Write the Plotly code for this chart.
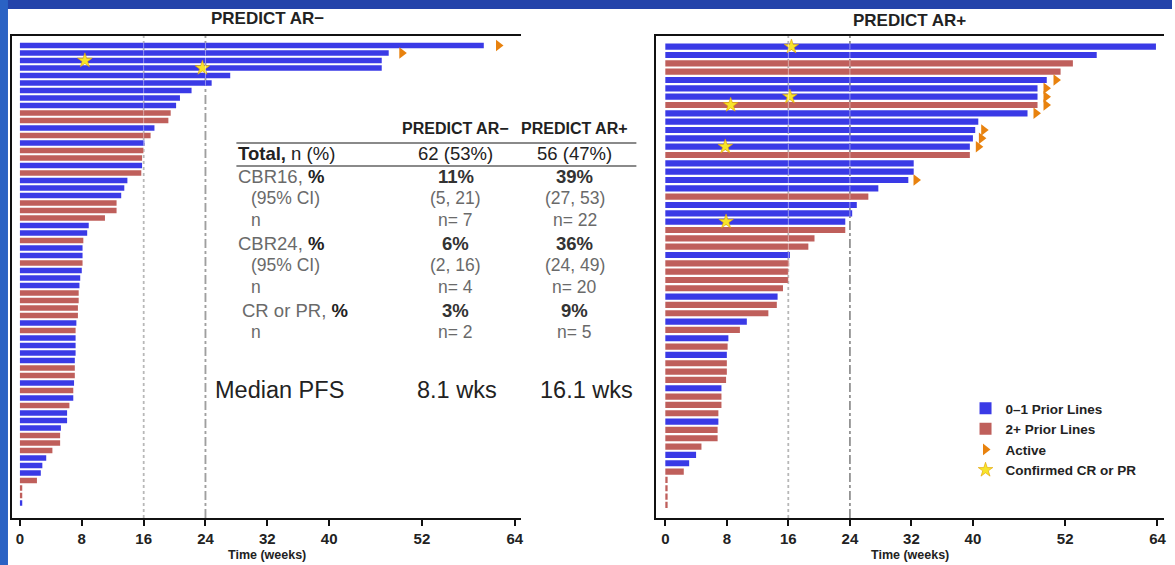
import plotly.graph_objects as go

W, H = 1175, 565

# ---------------- data ----------------
week_ticks = [0, 8, 16, 24, 32, 40, 52, 64]

# PREDICT AR- : time on study (weeks) per patient, sorted as in the waterfall
ar_neg_weeks = [60.0, 47.7, 46.8, 46.8, 27.2, 24.8, 22.2, 20.7, 20.2, 19.5,
                19.2, 17.4, 16.9, 16.1, 16.0, 15.8, 15.8, 15.7, 13.9, 13.5,
                13.1, 12.5, 12.5, 11.0, 8.9, 8.7, 8.2, 8.1, 8.1, 8.1,
                8.0, 7.8, 7.7, 7.6, 7.6, 7.5, 7.5, 7.3, 7.2, 7.2,
                7.2, 7.2, 7.1, 7.1, 7.1, 7.0, 6.9, 6.9, 6.4, 6.1,
                6.1, 5.3, 5.2, 5.2, 4.2, 3.4, 2.9, 2.7, 2.2, 0.3,
                0.3, 0.3]
# B = 0-1 prior lines, R = 2+ prior lines
ar_neg_lines = list("BBBBBBBBBRRBRBRRBRBBBRRRBBRBBRBBBRRRRBRBBBBRRBRBRBBBRRRBBBRRRB")
ar_neg_active_rows = [0, 1]
ar_neg_active_weeks = [61.9, 49.4]
ar_neg_resp_rows = [2, 3]
ar_neg_resp_weeks = [8.4, 23.6]

# PREDICT AR+
ar_pos_weeks = [63.8, 56.1, 53.0, 51.4, 49.6, 48.4, 48.4, 48.4, 47.1, 40.7,
                40.3, 40.0, 39.6, 39.6, 32.3, 32.3, 31.6, 27.7, 26.4, 24.9,
                24.3, 23.4, 23.4, 19.4, 18.6, 16.2, 16.1, 16.0, 16.0, 15.3,
                14.6, 14.5, 13.4, 10.6, 9.7, 8.2, 8.1, 8.0, 8.0, 8.0,
                7.9, 7.3, 7.3, 7.3, 6.9, 6.9, 6.8, 6.8, 4.7, 4.0,
                3.1, 2.4, 0.3, 0.3, 0.3, 0.3]
ar_pos_lines = list("BBRRBBBRBBBBBRBBBBRBBBRRRBRRRRBRRBRBRBRRRBRRRBRRRBBRRRRR")
ar_pos_active_rows = [4, 5, 6, 7, 8, 10, 11, 12, 16]
ar_pos_active_weeks = [50.8, 49.5, 49.5, 49.5, 48.2, 41.4, 41.1, 40.7, 32.6]
ar_pos_resp_rows = [0, 6, 7, 12, 21]
ar_pos_resp_weeks = [16.4, 16.2, 8.5, 7.8, 7.9]

# summary table
table_header = ["PREDICT AR\u2212", "PREDICT AR+"]
table_labels = ["Total, n (%)", "CBR16, %", "(95% CI)", "n", "CBR24, %",
                "(95% CI)", "n", "CR or PR, %", "n"]
table_neg = ["62 (53%)", "11%", "(5, 21)", "n= 7", "6%", "(2, 16)", "n= 4", "3%", "n= 2"]
table_pos = ["56 (47%)", "39%", "(27, 53)", "n= 22", "36%", "(24, 49)", "n= 20", "9%", "n= 5"]
median_label = "Median PFS"
median_neg = "8.1 wks"
median_pos = "16.1 wks"

# ---------------- style ----------------
BLUE = "#3a3ae6"
RED = "#bf5f5b"
ORANGE = "#e8820e"
YELLOW = "#f7e42a"
FONT = "Liberation Sans, Arial, sans-serif"


def X(p):
    return p / W


def Y(p):
    return 1 - p / H


fig = go.Figure()

panels = [
    dict(weeks=ar_neg_weeks, lines=ar_neg_lines,
         arows=ar_neg_active_rows, aweeks=ar_neg_active_weeks,
         srows=ar_neg_resp_rows, sweeks=ar_neg_resp_weeks, xa="x", ya="y"),
    dict(weeks=ar_pos_weeks, lines=ar_pos_lines,
         arows=ar_pos_active_rows, aweeks=ar_pos_active_weeks,
         srows=ar_pos_resp_rows, sweeks=ar_pos_resp_weeks, xa="x2", ya="y2"),
]

for k, p in enumerate(panels):
    for code, color, name in [("B", BLUE, "0\u20131 Prior Lines"), ("R", RED, "2+ Prior Lines")]:
        rows = [i for i, c in enumerate(p["lines"]) if c == code]
        fig.add_trace(go.Bar(
            x=[p["weeks"][i] for i in rows], y=rows, orientation="h",
            width=0.74, marker=dict(color=color, line=dict(width=0)),
            name=name, legendgroup=name, showlegend=(k == 1),
            xaxis=p["xa"], yaxis=p["ya"]))
    fig.add_trace(go.Scatter(
        x=p["aweeks"], y=p["arows"], mode="markers",
        marker=dict(symbol="triangle-right", size=10, color=ORANGE, line=dict(width=0)),
        name="Active", legendgroup="Active", showlegend=(k == 1),
        xaxis=p["xa"], yaxis=p["ya"]))
    fig.add_trace(go.Scatter(
        x=p["sweeks"], y=p["srows"], mode="markers",
        marker=dict(symbol="star", size=11, color=YELLOW, line=dict(width=0.6, color="#e0a000")),
        name="Confirmed CR or PR", legendgroup="Star", showlegend=(k == 1),
        xaxis=p["xa"], yaxis=p["ya"]))

shapes = []
# slide background strips
shapes.append(dict(type="rect", xref="paper", yref="paper", x0=0, x1=1, y0=Y(9), y1=1,
                   fillcolor="#2444aa", line=dict(width=0), layer="below"))
shapes.append(dict(type="rect", xref="paper", yref="paper", x0=0, x1=X(8), y0=0, y1=1,
                   fillcolor="#2a62c4", line=dict(width=0), layer="below"))

for xa in ["x", "x2"]:
    shapes.append(dict(type="line", xref=xa, yref=xa.replace("x", "y") + " domain",
                       x0=16, x1=16, y0=0, y1=1, line=dict(color="#8a8a8a", width=1.5, dash="dot"),
                       layer="below"))
    shapes.append(dict(type="line", xref=xa, yref=xa.replace("x", "y") + " domain",
                       x0=24, x1=24, y0=0, y1=1, line=dict(color="#555555", width=1.5, dash="dashdot"),
                       layer="below"))
    for v in (16, 24):
        shapes.append(dict(type="line", xref=xa, yref=xa.replace("x", "y") + " domain",
                           x0=v, x1=v, y0=0, y1=1, line=dict(color="rgba(255,255,255,0.45)", width=1),
                           layer="above"))

# table rules
for yy in (143, 166):
    shapes.append(dict(type="line", xref="paper", yref="paper", x0=X(237), x1=X(638),
                       y0=Y(yy), y1=Y(yy), line=dict(color="#8a8a8a", width=2)))

annotations = []


def txt(text, x, y, size, color="#222", anchor="center", bold=False):
    annotations.append(dict(text=text, x=X(x), y=Y(y), xref="paper", yref="paper",
                            showarrow=False, xanchor=anchor, yanchor="middle",
                            font=dict(family=FONT, size=size, color=color,
                                      weight="bold" if bold else "normal")))


# panel titles and axis titles
txt("PREDICT AR\u2212", 268, 19, 17, "#222", bold=True)
txt("PREDICT AR+", 912, 20, 17, "#222", bold=True)
txt("Time (weeks)", 268, 555, 12.5, "#222", bold=True)
txt("Time (weeks)", 912, 555, 12.5, "#222", bold=True)

# table
col_neg, col_pos = 457, 576
txt(table_header[0], col_neg, 128, 16, "#222", bold=True)
txt(table_header[1], col_pos, 128, 16, "#222", bold=True)
row_y = [153, 176, 198, 220, 243, 265, 287, 310, 332]
label_x = [237, 237, 250, 250, 237, 250, 250, 241, 250]
GRAY = "#6a6a6a"
for i, lab in enumerate(table_labels):
    if i == 0:
        t = "<b>Total,</b> n (%)"
        txt(t, label_x[i], row_y[i], 18.5, "#222", anchor="left")
        txt(table_neg[i], col_neg, row_y[i], 18.5, "#222")
        txt(table_pos[i], col_pos, row_y[i], 18.5, "#222")
    elif lab.endswith("%"):
        head = lab[:-1].rstrip()
        t = "<span style='color:%s'>%s</span> <b>%%</b>" % (GRAY, head)
        txt(t, label_x[i], row_y[i], 18.5, "#222", anchor="left")
        txt(table_neg[i], col_neg, row_y[i], 18.5, "#333", bold=True)
        txt(table_pos[i], col_pos, row_y[i], 18.5, "#333", bold=True)
    else:
        txt(lab, label_x[i], row_y[i], 17.5, GRAY, anchor="left")
        txt(table_neg[i], col_neg, row_y[i], 17.5, GRAY)
        txt(table_pos[i], col_pos, row_y[i], 17.5, GRAY)

txt(median_label, 214, 390, 23.5, "#222", anchor="left")
txt(median_neg, 458, 390, 23.5, "#222")
txt(median_pos, 588, 390, 23.5, "#222")

axis_common = dict(showgrid=False, zeroline=False, showline=True, linecolor="#111",
                   linewidth=2, fixedrange=True)
xaxis_common = dict(axis_common, mirror=True, ticks="outside", ticklen=6, tickwidth=2,
                    tickcolor="#111", tickvals=week_ticks,
                    ticktext=[str(v) for v in week_ticks],
                    tickfont=dict(family=FONT, size=15, color="#222", weight="bold"))
yaxis_common = dict(axis_common, showticklabels=False, ticks="")

ydom = [Y(518), Y(36)]
fig.update_layout(
    width=W, height=H,
    margin=dict(l=0, r=0, t=0, b=0, pad=0),
    paper_bgcolor="white", plot_bgcolor="white",
    barmode="overlay",
    showlegend=True,
    xaxis=dict(xaxis_common, domain=[X(12), X(522)], range=[-1.03, 64.77], anchor="y"),
    yaxis=dict(yaxis_common, domain=ydom, range=[63.0, -1.27], anchor="x"),
    xaxis2=dict(xaxis_common, domain=[X(658), X(1167)], range=[-1.17, 64.85], anchor="y2"),
    yaxis2=dict(yaxis_common, domain=ydom, range=[56.57, -1.28], anchor="x2"),
    legend=dict(x=X(968), y=Y(393), xanchor="left", yanchor="top",
                bgcolor="rgba(0,0,0,0)", traceorder="normal",
                font=dict(family=FONT, size=13.5, color="#222", weight="bold")),
    shapes=shapes,
    annotations=annotations,
    font=dict(family=FONT),
)

fig.write_html("out.html",
               config={"displayModeBar": False},
               post_script="document.body.style.margin='0px';document.body.style.overflow='hidden';")
